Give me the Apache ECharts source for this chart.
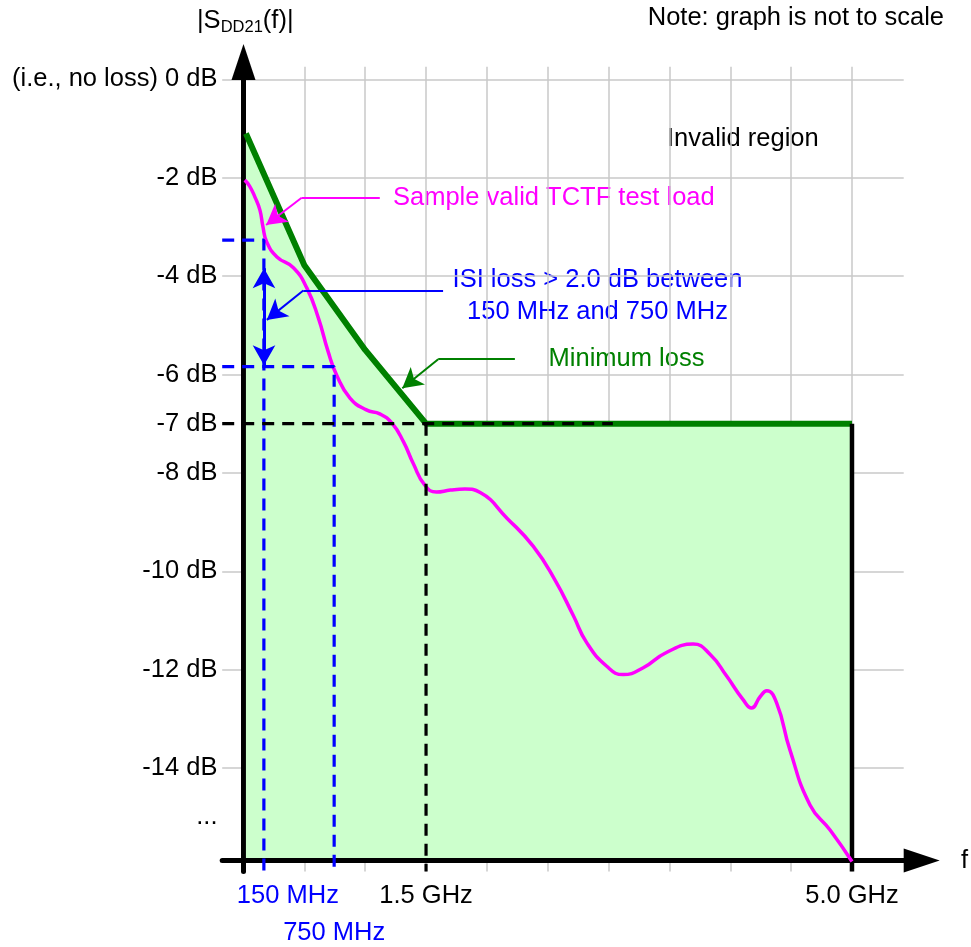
<!DOCTYPE html>
<html><head><meta charset="utf-8">
<script src="https://cdn.jsdelivr.net/npm/echarts@6/dist/echarts.min.js"></script>
<style>html,body{margin:0;padding:0;background:#fff}#c{width:971px;height:947px}</style>
</head><body><div id="c"></div>
<script>
const FONT = '"Liberation Sans", Arial, Helvetica, sans-serif';
// x positions are in "not to scale" units (one grid column = 1 unit)
const freqTickValues = [0.335, 1.49, 3, 10];
const freqTickLabels = ['150 MHz', '750 MHz', '1.5 GHz', '5.0 GHz'];
const xGridValues = [1, 2, 3, 4, 5, 6, 7, 8, 9, 10];
const dbLabelValues = [0, -2, -4, -6, -7, -8, -10, -12, -14, -15];
const yGridValues = [0, -2, -4, -6, -8, -10, -12, -14];
// Minimum loss line (boundary of the valid region)
const minLossX = [0.04, 1, 2, 3, 10];
const minLossDb = [-1.1, -3.78, -5.5, -7, -7];
// Sample valid TCTF test load
const sampleX = [0.02,0.10,0.19,0.27,0.32,0.38,0.55,0.82,1.04,1.23,1.39,1.53,1.75,2.02,2.24,2.44,2.63,2.79,2.98,3.17,3.40,3.64,3.89,4.33,4.76,5.12,5.42,5.64,5.97,6.24,6.57,6.95,7.39,7.67,7.94,8.21,8.35,8.49,8.60,8.76,8.98,9.31,9.64,10.0];
const sampleDb = [-2.05,-2.17,-2.40,-2.66,-3.00,-3.30,-3.61,-3.83,-4.24,-4.85,-5.53,-6.01,-6.48,-6.72,-6.80,-6.99,-7.37,-7.81,-8.25,-8.39,-8.35,-8.33,-8.40,-8.92,-9.49,-10.18,-10.90,-11.45,-11.93,-12.10,-11.96,-11.65,-11.48,-11.69,-12.13,-12.61,-12.78,-12.55,-12.43,-12.67,-13.63,-14.75,-15.26,-15.9];
// ISI levels at 150 MHz and 750 MHz
const isiDb = [-3.27, -5.84];
const floorDb = -7;
const floorDashEndX = 6.07;
// annotation leader lines [x, dB] (last point = arrow tip)
const magentaLeader = [[2.24, -2.407], [0.956, -2.407], [0.372, -2.96]];
const blueLeader = [[3.28, -4.293], [0.983, -4.293], [0.383, -4.89]];
const greenLeader = [[4.46, -5.69], [3.2, -5.69], [2.61, -6.28]];
const isiArrow = [[0.337, -3.84], [0.337, -5.81]];

const X_MIN = -0.35, X_MAX = 10.85, Y_MIN = -16.1, Y_MAX = 0.256, AXIS_DB = -15.83;
const dash = [12, 8];
const BLUE = '#0000FF', MAG = '#FF00FF', GREEN = '#008000';

function leader(pts, color) {
  const ls = {color: color, width: 2, type: 'solid'};
  return [
    [{coord: pts[0], lineStyle: ls, symbol: 'none'}, {coord: pts[1], symbol: 'none'}],
    [{coord: pts[1], lineStyle: ls, symbol: 'none'}, {coord: pts[2], symbol: 'arrow', symbolSize: [17, 20]}]
  ];
}

function fmtDb(v) {
  if (Math.abs(v) < 1e-9) return '(i.e., no loss) 0 dB';
  if (Math.abs(v + 15) < 1e-9) return '...';
  return Math.round(v) + ' dB';
}
function fmtFreq(v) {
  let i = freqTickValues.findIndex(t => Math.abs(t - v) < 1e-6);
  if (i < 0) return '';
  const style = ['m1', 'm2', 'g', 'g'][i];
  return '{' + style + '|' + freqTickLabels[i] + '}';
}

const chart = echarts.init(document.getElementById('c'), null, {renderer: 'canvas'});
chart.setOption({
  animation: false,
  backgroundColor: '#fff',
  grid: {left: 222.2, right: 67.3, top: 66.7, bottom: 75.6, outerBoundsMode: 'none', containLabel: false},
  xAxis: {
    type: 'value', min: X_MIN, max: X_MAX, position: 'bottom', offset: -10.9,
    axisLine: {show: true, onZero: false, lineStyle: {color: '#000', width: 5},
      symbol: ['none', 'triangle'], symbolSize: [24, 36], symbolOffset: [0, 18]},
    axisTick: {show: false, customValues: xGridValues},
    axisLabel: {
      customValues: freqTickValues, formatter: fmtFreq, margin: 22,
      fontSize: 25.5, fontFamily: FONT, color: '#000',
      rich: {
        m1: {color: BLUE, fontSize: 25.5, fontFamily: FONT, padding: [0, 0, 0, 48]},
        m2: {color: BLUE, fontSize: 25.5, fontFamily: FONT, padding: [37, 0, 0, 0]},
        g: {color: '#000', fontSize: 25.5, fontFamily: FONT}
      }
    },
    splitLine: {show: true, lineStyle: {color: '#c8c8c8', width: 1.5}}
  },
  yAxis: {
    type: 'value', min: Y_MIN, max: Y_MAX, position: 'left', offset: -21.3,
    axisLine: {show: true, onZero: false, lineStyle: {color: '#000', width: 5},
      symbol: ['none', 'triangle'], symbolSize: [24, 36], symbolOffset: [0, 4.7]},
    axisTick: {show: false, customValues: yGridValues},
    axisLabel: {customValues: dbLabelValues, formatter: fmtDb, margin: 26,
      fontSize: 25.5, fontFamily: FONT, color: '#000'},
    splitLine: {show: true, lineStyle: {color: '#c8c8c8', width: 1.5}}
  },
  series: [
    {type: 'line', name: 'Minimum loss', data: minLossX.map((x, i) => [x, minLossDb[i]]),
      symbol: 'none', lineStyle: {color: GREEN, width: 6, join: 'round'},
      areaStyle: {color: '#CCFFCC', opacity: 1, origin: AXIS_DB}, z: 2, silent: true},
    {type: 'line', name: 'boundary', data: [[minLossX[4], floorDb], [minLossX[4], Y_MIN]],
      symbol: 'none', lineStyle: {color: '#000', width: 4.5}, z: 3, silent: true},
    {type: 'line', name: 'Sample valid TCTF test load', data: sampleX.map((x, i) => [x, sampleDb[i]]),
      smooth: 0.5, symbol: 'none', lineStyle: {color: MAG, width: 3.5}, z: 4, silent: true},
    {type: 'line', name: '150 MHz', data: [[X_MIN, isiDb[0]], [freqTickValues[0], isiDb[0]], [freqTickValues[0], Y_MIN]],
      symbol: 'none', lineStyle: {color: BLUE, width: 3.2, type: dash}, z: 5, silent: true},
    {type: 'line', name: '750 MHz', data: [[X_MIN, isiDb[1]], [freqTickValues[1], isiDb[1]], [freqTickValues[1], Y_MIN]],
      symbol: 'none', lineStyle: {color: BLUE, width: 3.2, type: dash}, z: 5, silent: true},
    {type: 'line', name: '-7 dB', data: [[X_MIN, floorDb], [floorDashEndX, floorDb]],
      symbol: 'none', lineStyle: {color: '#000', width: 3.2, type: dash}, z: 6, silent: true},
    {type: 'line', name: '1.5 GHz', data: [[freqTickValues[2], floorDb], [freqTickValues[2], Y_MIN]],
      symbol: 'none', lineStyle: {color: '#000', width: 3.2, type: dash}, z: 6, silent: true},
    {type: 'line', name: 'annotations', data: [], z: 7, silent: true,
      markLine: {
        silent: true, animation: false, label: {show: false}, symbol: ['none', 'none'],
        emphasis: {disabled: true},
        data: [
          [{coord: isiArrow[0], symbol: 'arrow', symbolSize: [17, 20], lineStyle: {color: BLUE, width: 3, type: 'solid'}},
           {coord: isiArrow[1], symbol: 'arrow', symbolSize: [17, 20]}]
        ].concat(leader(magentaLeader, MAG), leader(blueLeader, BLUE), leader(greenLeader, GREEN))
      }}
  ],
  graphic: [
    {type: 'text', silent: true, style: {x: 197, y: 21, text: '{a||S}{b|DD21}{a|(f)|}', align: 'left', verticalAlign: 'middle',
      rich: {a: {fontSize: 25.5, fontFamily: FONT, fill: '#000', lineHeight: 30},
             b: {fontSize: 16.5, fontFamily: FONT, fill: '#000', lineHeight: 16, verticalAlign: 'bottom'}}}},
    {type: 'text', silent: true, style: {x: 944, y: 18, text: 'Note: graph is not to scale', align: 'right', verticalAlign: 'middle', font: '25.5px ' + FONT, fill: '#000'}},
    {type: 'text', silent: true, style: {x: 667, y: 139, text: 'Invalid region', align: 'left', verticalAlign: 'middle', font: '25.5px ' + FONT, fill: '#000'}},
    {type: 'text', silent: true, style: {x: 517, y: 728, text: 'Valid region', align: 'center', verticalAlign: 'middle', font: '25.5px ' + FONT, fill: '#000'}},
    {type: 'text', silent: true, style: {x: 393, y: 198, text: 'Sample valid TCTF test load', align: 'left', verticalAlign: 'middle', font: '25.5px ' + FONT, fill: MAG}},
    {type: 'text', silent: true, style: {x: 597.5, y: 279.5, text: 'ISI loss > 2.0 dB between', align: 'center', verticalAlign: 'middle', font: '25.5px ' + FONT, fill: BLUE}},
    {type: 'text', silent: true, style: {x: 597.5, y: 311.5, text: '150 MHz and 750 MHz', align: 'center', verticalAlign: 'middle', font: '25.5px ' + FONT, fill: BLUE}},
    {type: 'text', silent: true, style: {x: 626.5, y: 358.5, text: 'Minimum loss', align: 'center', verticalAlign: 'middle', font: '25.5px ' + FONT, fill: GREEN}},
    {type: 'text', silent: true, style: {x: 961, y: 861, text: 'f', align: 'left', verticalAlign: 'middle', font: '25.5px ' + FONT, fill: '#000'}}
  ]
});
</script>
</body></html>
